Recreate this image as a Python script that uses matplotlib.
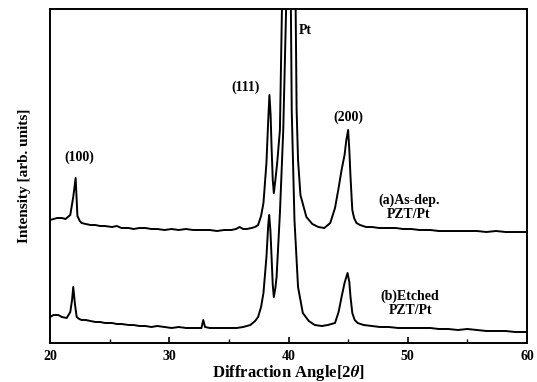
import numpy as np
import matplotlib
matplotlib.use("Agg")
import matplotlib.pyplot as plt
from matplotlib.ticker import MultipleLocator

plt.rcParams.update({
    "font.family": ["Liberation Serif", "DejaVu Serif"],
    "font.weight": "bold",
    "axes.labelweight": "bold",
    "mathtext.fontset": "stix",
})

# ── Data (arb. units) ────────────────────────────────────────────────────
two_theta_a = [
    20.0, 20.3, 20.6, 21.0, 21.3, 21.7, 21.95, 22.15, 22.3, 22.5, 22.65, 23.0,
    23.4, 23.8, 24.2, 24.6, 25.2, 25.6, 26.0, 26.6, 27.0, 27.5, 28.0, 28.5,
    29.0, 29.6, 30.2, 30.8, 31.4, 32.0, 32.85, 33.4, 34.0, 34.6, 35.2, 35.6,
    35.9, 36.2, 36.5, 36.9, 37.2, 37.45, 37.7, 37.9, 38.15, 38.3, 38.4, 38.5,
    38.58, 38.68, 38.77, 38.9, 39.05, 39.28, 39.45, 39.95, 40.6, 40.68, 40.8,
    41.0, 41.5, 42.0, 42.5, 43.0, 43.5, 43.9, 44.2, 44.45, 44.7, 44.85, 45.0,
    45.1, 45.2, 45.35, 45.5, 45.7, 46.0, 46.5, 47.0, 47.6, 48.2, 49.0, 49.6,
    50.3, 51.0, 51.9, 52.6, 53.4, 54.2, 55.0, 55.8, 56.6, 57.4, 58.2, 59.0, 60.0,
]
intensity_a = [
    123, 124, 125, 125, 124, 128, 146, 165, 127, 122, 120, 119,
    118, 118, 117, 117, 116, 117, 115, 115, 114, 115, 115, 114,
    114, 113, 114, 113, 114, 113, 113, 113, 112, 113, 113, 114,
    116, 114, 114, 115, 116, 118, 127, 140, 180, 223, 248, 228,
    196, 163, 150, 163, 180, 213, 334, 743, 334, 233, 183,
    148, 126, 119, 116, 115, 120, 135, 155, 173, 188, 203, 213,
    193, 166, 133, 125, 120, 118, 116, 116, 115, 115, 115, 114,
    114, 113, 113, 112, 112, 112, 112, 112, 111, 112, 111, 111, 111,
]

two_theta_b = [
    20.0, 20.3, 20.7, 21.0, 21.4, 21.7, 21.85, 21.95, 22.1, 22.24, 22.45, 22.65,
    23.0, 23.4, 23.8, 24.2, 24.6, 25.2, 25.6, 26.0, 26.6, 27.0, 27.5, 28.0,
    28.5, 29.0, 29.6, 30.2, 30.8, 31.4, 32.0, 32.7, 32.85, 33.0, 33.4, 34.0,
    34.6, 35.2, 35.65, 36.2, 36.8, 37.2, 37.45, 37.7, 37.9, 38.15, 38.3, 38.38,
    38.48, 38.58, 38.68, 38.77, 38.9, 39.0, 39.28, 39.56, 39.8, 40.0, 40.2,
    40.27, 40.5, 40.8, 41.2, 41.7, 42.2, 42.8, 43.3, 43.9, 44.2, 44.45, 44.7,
    44.95, 45.1, 45.2, 45.35, 45.55, 45.8, 46.3, 47.0, 47.65, 48.4, 49.2, 50.0,
    50.8, 51.9, 52.6, 53.4, 54.2, 55.0, 55.8, 56.6, 57.4, 58.2, 59.0, 60.0,
]
intensity_b = [
    26, 28, 28, 26, 25, 31, 43, 56, 38, 26, 24, 23,
    23, 22, 21, 21, 20, 20, 19, 19, 18, 18, 17, 17,
    16, 17, 16, 15, 16, 15, 15, 15, 23, 16, 15, 15,
    15, 15, 15, 16, 18, 22, 26, 36, 50, 86, 118, 128,
    113, 86, 58, 46, 55, 66, 130, 213, 334, 743, 334,
    233, 123, 56, 30, 22, 18, 17, 18, 20, 31, 46, 60,
    70, 61, 46, 30, 23, 20, 18, 17, 16, 16, 15, 15,
    15, 15, 14, 14, 13, 14, 13, 12, 12, 12, 11, 11,
]

peak_labels = ["(100)", "(111)", "Pt", "(200)"]
peak_label_pos = [(22.5, 186), (36.4, 256), (41.4, 313), (45.05, 226)]
sample_labels = ["(a)As-dep.\nPZT/Pt", "(b)Etched\nPZT/Pt"]
sample_label_pos = [(50.1, 136), (50.2, 40)]

fig = plt.figure(figsize=(5.37, 3.82), dpi=100)
ax = fig.add_axes([0.0931, 0.1021, 0.8883, 0.8743])

ax.plot(two_theta_a, intensity_a, color="k", lw=1.4)
ax.plot(two_theta_b, intensity_b, color="k", lw=1.4)

ax.set_xlim(20, 60)
ax.set_ylim(0, 334)
ax.xaxis.set_major_locator(MultipleLocator(10))
ax.xaxis.set_minor_locator(MultipleLocator(5))
ax.tick_params(axis="x", which="major", direction="in", length=4, width=1.2,
               labelsize=10, pad=5)
ax.tick_params(axis="x", which="minor", direction="in", length=3, width=1.0)
ax.set_yticks([])
for s in ax.spines.values():
    s.set_linewidth(1.4)

for lab, (x, y) in zip(peak_labels, peak_label_pos):
    ax.text(x, y, lab, ha="center", va="center", fontsize=10)
for lab, (x, y) in zip(sample_labels, sample_label_pos):
    ax.text(x, y, lab, ha="center", va="center", fontsize=10,
            linespacing=1.1)

ax.set_xlabel(r"Diffraction Angle[2$\theta$]", fontsize=12, labelpad=0)
ax.set_ylabel("Intensity [arb. units]", fontsize=11, labelpad=14)

fig.savefig("out.png", dpi=100)
